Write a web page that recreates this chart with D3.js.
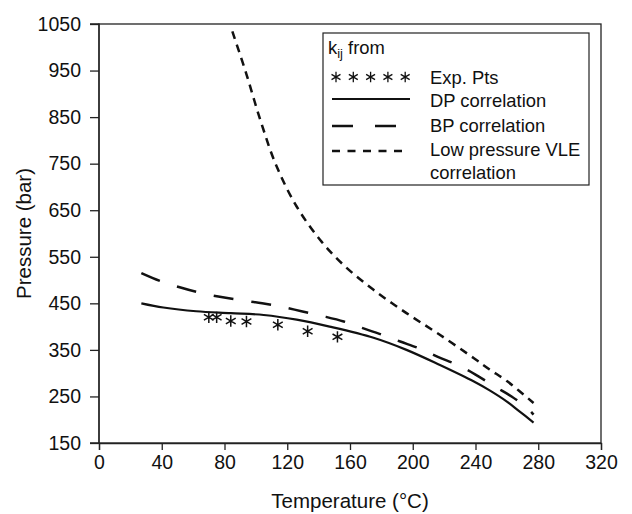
<!DOCTYPE html>
<html lang="en">
<head>
    <meta charset="UTF-8">
    <title>Pressure vs Temperature</title>
    <script src="https://d3js.org/d3.v7.min.js"></script>
    <style>
        body { margin: 0; background: #fff; }
        text { font-family: "Liberation Sans", Arial, Helvetica, sans-serif; fill: #111; }
    </style>
</head>
<body>
<script>
    const width  = 632;
    const height = 514;
    const margin = {top: 24, right: 31, bottom: 71, left: 99};

    // experimental points
    const expT = [70, 75, 84, 94, 114, 133, 152];
    const expP = [420, 420, 412, 411, 404, 390, 378];

    // kij from DP correlation
    const dpT = [27, 41, 62, 84, 105, 126, 147, 175, 196, 217, 239, 249, 260, 268, 277];
    const dpP = [450, 441, 433, 429, 425, 415, 400, 376, 350, 318, 282, 263, 239, 218, 194];

    // kij from BP correlation
    const bpT = [27, 39, 52, 64, 77, 90, 104, 116, 129, 142, 156, 167, 180, 192, 205, 216, 229, 240, 252, 263, 274, 277];
    const bpP = [515, 498, 484, 473, 464, 457, 450, 443, 433, 423, 411, 398, 383, 368, 352, 335, 317, 297, 272, 250, 222, 211];

    // kij from low pressure VLE correlation
    const lpT = [85, 94, 103, 113, 126, 141, 156, 175, 196, 217, 239, 249, 260, 277];
    const lpP = [1034, 942, 842, 746, 658, 586, 532, 479, 429, 383, 332, 308, 283, 236];

    const xTicks = [0, 40, 80, 120, 160, 200, 240, 280, 320];
    const yTicks = [150, 250, 350, 450, 550, 650, 750, 850, 950, 1050];

    const legendLabels = ["Exp. Pts", "DP correlation", "BP correlation", "Low pressure VLE"];

    const zip = (a, b) => a.map((v, i) => [v, b[i]]);

    const x = d3.scaleLinear().domain([0, 320]).range([margin.left, width - margin.right]);
    const y = d3.scaleLinear().domain([150, 1050]).range([height - margin.bottom, margin.top]);

    const svg = d3.select("body").append("svg").attr("width", width).attr("height", height);

    // frame
    svg.append("rect")
        .attr("x", x(0)).attr("y", y(1050))
        .attr("width", x(320) - x(0)).attr("height", y(150) - y(1050))
        .style("fill", "none").style("stroke", "#222").style("stroke-width", 1.3);

    const xAxis = d3.axisBottom(x).tickValues(xTicks).tickSize(7).tickPadding(5).tickFormat(d3.format("d"));
    const yAxis = d3.axisLeft(y).tickValues(yTicks).tickSize(9).tickPadding(9).tickFormat(d3.format("d"));

    const gx = svg.append("g").attr("transform", "translate(" + [0, y(150)] + ")").call(xAxis);
    const gy = svg.append("g").attr("transform", "translate(" + [x(0), 0] + ")").call(yAxis);
    [gx, gy].forEach(g => {
        g.select(".domain").style("stroke", "#222").style("stroke-width", 1.3);
        g.selectAll(".tick line").style("stroke", "#222").style("stroke-width", 1.3);
        g.selectAll(".tick text").style("font-size", "19.5px").style("font-family", "'Liberation Sans', Arial, sans-serif").style("fill", "#111");
    });
    gy.select(".domain").attr("d", "M-9," + y(150) + "H0V" + y(1050) + "H-9");

    svg.append("text")
        .attr("x", (x(0) + x(320)) / 2).attr("y", 508)
        .attr("text-anchor", "middle").style("font-size", "20.5px")
        .text("Temperature (°C)");
    svg.append("text")
        .attr("transform", "translate(31," + (y(150) + y(1050)) / 2 + ") rotate(-90)")
        .attr("text-anchor", "middle").style("font-size", "20.5px")
        .text("Pressure (bar)");

    const line = d3.line().x(d => x(d[0])).y(d => y(d[1])).curve(d3.curveCatmullRom.alpha(0.5));

    svg.append("path").attr("d", line(zip(dpT, dpP)))
        .style("fill", "none").style("stroke", "#111").style("stroke-width", 2.2);
    svg.append("path").attr("d", line(zip(bpT, bpP)))
        .style("fill", "none").style("stroke", "#111").style("stroke-width", 2.5)
        .style("stroke-dasharray", "20,18");
    svg.append("path").attr("d", line(zip(lpT, lpP)))
        .style("fill", "none").style("stroke", "#111").style("stroke-width", 2.5)
        .style("stroke-dasharray", "8,6");

    const star = d3.symbol().type(d3.symbolAsterisk).size(90);
    svg.selectAll(".exp").data(zip(expT, expP)).enter().append("path")
        .attr("class", "exp")
        .attr("transform", d => "translate(" + [x(d[0]), y(d[1])] + ")")
        .attr("d", star)
        .style("fill", "none").style("stroke", "#111").style("stroke-width", 1.5);

    // legend
    const lg = svg.append("g");
    lg.append("rect").attr("x", 323).attr("y", 33).attr("width", 266).attr("height", 152)
        .style("fill", "#fff").style("stroke", "#222").style("stroke-width", 1.2);
    const title = lg.append("text").attr("x", 328).attr("y", 54).style("font-size", "18.4px");
    title.append("tspan").text("k");
    title.append("tspan").attr("dy", 4).style("font-size", "13px").text("ij");
    title.append("tspan").attr("dy", -4).text(" from");

    const textX = 430;
    const rowY = [84, 107, 132, 156];
    legendLabels.forEach((t, i) => {
        lg.append("text").attr("x", textX).attr("y", rowY[i]).style("font-size", "18.4px").text(t);
    });
    lg.append("text").attr("x", textX).attr("y", 179).style("font-size", "18.4px").text("correlation");

    lg.selectAll(".lstar").data(d3.range(5)).enter().append("path")
        .attr("transform", d => "translate(" + [336 + d * 17.3, 77] + ")")
        .attr("d", d3.symbol().type(d3.symbolAsterisk).size(75))
        .style("fill", "none").style("stroke", "#111").style("stroke-width", 1.3);
    const ls = d3.line();
    lg.append("path").attr("transform", "translate(0,99)").attr("d", ls([[332, 0], [410, 0]]))
        .style("stroke", "#111").style("stroke-width", 2.2);
    lg.append("path").attr("transform", "translate(0,126)").attr("d", ls([[332, 0], [396, 0]]))
        .style("stroke", "#111").style("stroke-width", 2.5).style("stroke-dasharray", "21,22");
    lg.append("path").attr("transform", "translate(0,151)").attr("d", ls([[332, 0], [402, 0]]))
        .style("stroke", "#111").style("stroke-width", 2.5).style("stroke-dasharray", "8,7.5");
</script>
</body>
</html>
